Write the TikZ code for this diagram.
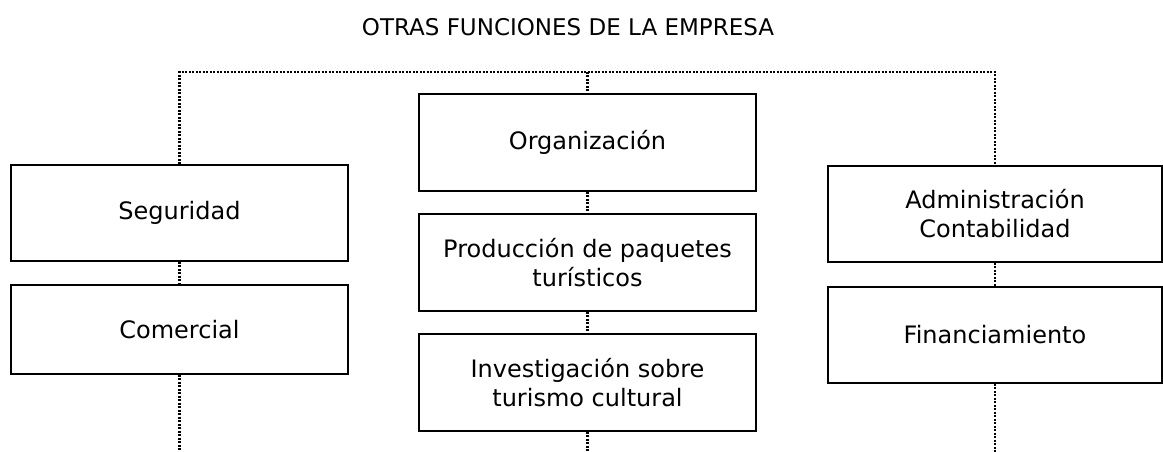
\documentclass[tikz,border=0pt]{standalone}
\usepackage{fontspec}
\setmainfont{DejaVu Sans}
\begin{document}
\begin{tikzpicture}[x=1pt,y=-1pt,
  txt/.style={font=\fontsize{24}{29}\selectfont},
  box/.style={txt,draw,line width=1.3pt,inner sep=0pt,align=center},
  dots/.style={line width=2.2pt,dash pattern=on 2pt off 1.5pt}]
\useasboundingbox (0,0) rectangle (1163,452);
\node[font=\fontsize{23}{29}\selectfont] (title) at (568,27) {OTRAS FUNCIONES DE LA EMPRESA};
\node[box,minimum width=337pt,minimum height=96pt] (seg) at (179.5,213) {Seguridad};
\node[box,minimum width=337pt,minimum height=89pt] (com) at (179.5,329.5) {Comercial};
\node[box,minimum width=337pt,minimum height=97pt] (org) at (587.5,142.5) {Organización};
\node[box,minimum width=337pt,minimum height=97pt] (prod) at (587.5,262.5) {Producción de paquetes\\turísticos};
\node[box,minimum width=337pt,minimum height=97pt] (inv) at (587.5,382.5) {Investigación sobre\\turismo cultural};
\node[box,minimum width=334pt,minimum height=96pt] (adm) at (995,214) {Administración\\Contabilidad};
\node[box,minimum width=334pt,minimum height=96pt] (fin) at (995,335) {Financiamiento};
\coordinate (tl) at (179.5,72);
\coordinate (tc) at (587.5,72);
\coordinate (tr) at (995,72);
\coordinate (bl) at (179.5,452);
\coordinate (bc) at (587.5,452);
\coordinate (br) at (995,452);
\draw[dots] (seg.north) -- (tl) -- (tr) -- (adm.north);
\draw[dots] (tc) -- (org.north);
\draw[dots] (seg.south) -- (com.north);
\draw[dots] (org.south) -- (prod.north);
\draw[dots] (prod.south) -- (inv.north);
\draw[dots] (adm.south) -- (fin.north);
\draw[dots] (com.south) -- (bl);
\draw[dots] (inv.south) -- (bc);
\draw[dots] (fin.south) -- (br);
\end{tikzpicture}
\end{document}
